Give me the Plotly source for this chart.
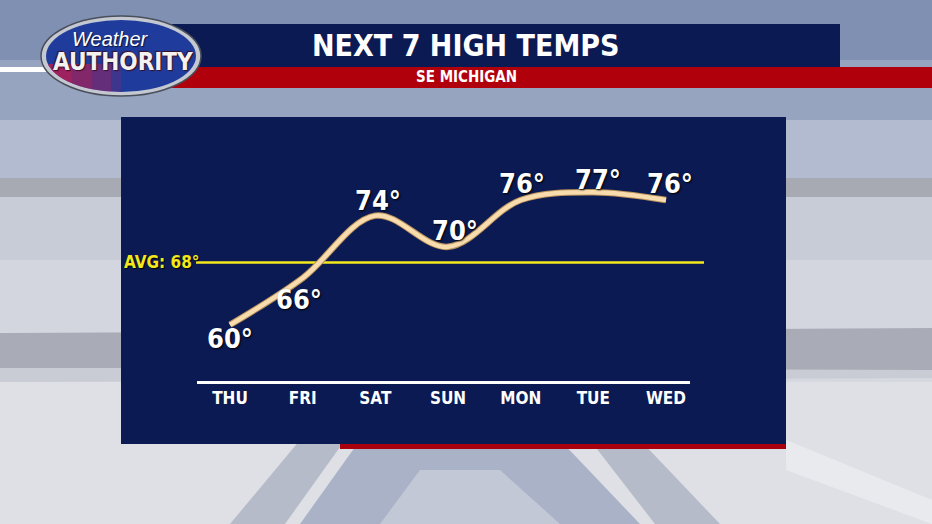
import math
import plotly.graph_objects as go

# ---------------- data ----------------
DAYS = ["THU", "FRI", "SAT", "SUN", "MON", "TUE", "WED"]
HIGHS = [60, 66, 74, 70, 76, 77, 76]
AVG_TEMP = 68
TITLE = "NEXT 7 HIGH TEMPS"
SUBTITLE = "SE MICHIGAN"

# ---------------- styling helpers ----------------
W, H = 932, 524
FONT = "DejaVu Sans Condensed, Liberation Sans Narrow, Arial Narrow, sans-serif"
NAVY = "#0b1a52"
RED = "#a9000d"


def px(x):
    return x / W


def py(y):
    return 1 - y / H


def rect(x0, y0, x1, y1, fill, layer="below", line=None):
    return dict(type="rect", xref="paper", yref="paper", x0=px(x0), x1=px(x1),
                y0=py(y1), y1=py(y0), fillcolor=fill, layer=layer,
                line=line or dict(width=0))


def poly(points, fill, layer="below"):
    d = "M " + " L ".join(f"{px(a)},{py(b)}" for a, b in points) + " Z"
    return dict(type="path", xref="paper", yref="paper", path=d, fillcolor=fill,
                layer=layer, line=dict(width=0))


def ellipse(x0, y0, x1, y1, fill, line=None, layer="below"):
    return dict(type="circle", xref="paper", yref="paper", x0=px(x0), x1=px(x1),
                y0=py(y1), y1=py(y0), fillcolor=fill, layer=layer,
                line=line or dict(width=0))


def lower_ellipse_piece(cx, cy, rx, ry, y_cut, x_end, fill):
    # region of the ellipse below y_cut and left of x_end
    pts = []
    n = 24
    for k in range(n + 1):
        a = math.pi - (math.pi / 2) * k / n  # left -> bottom
        x = cx + rx * math.cos(a)
        y = cy + ry * math.sin(a) * 1.0
        pts.append((x, cy + ry * math.sin(math.pi - a) if False else cy + abs(ry * math.sin(a))))
    pts = [(x, y) for (x, y) in
           [(cx + rx * math.cos(math.pi - (math.pi / 2) * k / n),
             cy + ry * math.sin((math.pi / 2) * k / n)) for k in range(n + 1)]
           if y >= y_cut and x <= x_end]
    if not pts:
        return None
    pts = [(pts[0][0], y_cut)] + pts + [(min(x_end, pts[-1][0]), pts[-1][1]),
                                         (min(x_end, pts[-1][0]), y_cut)]
    return poly(pts, fill)


shapes = []
# --- background (sky / studio) ---
shapes += [
    rect(0, 0, 932, 60, "#8090b2"),
    rect(0, 60, 932, 120, "#97a4bf"),
    rect(0, 120, 932, 178, "#b2bbcf"),
    rect(0, 178, 932, 197, "#a7aab3"),
    rect(0, 197, 932, 260, "#c8ccd7"),
    rect(0, 260, 932, 332, "#d3d6de"),
    poly([(0, 333), (932, 328), (932, 370), (0, 368)], "#a9acb6"),
    poly([(0, 368), (932, 370), (932, 378), (0, 382)], "#c9ccd4"),
    rect(0, 382, 932, 524, "#dfe0e5"),
    poly([(230, 524), (300, 440), (345, 440), (285, 524)], "#b6bbc9"),
    poly([(300, 524), (360, 440), (560, 440), (640, 524)], "#aab2c8"),
    poly([(380, 524), (420, 470), (500, 470), (560, 524)], "#c3c8d6"),
    poly([(655, 524), (590, 440), (640, 440), (720, 524)], "#b6bbc9"),
    poly([(786, 440), (932, 500), (932, 524), (786, 470)], "#e9eaee"),
]
# --- header bars ---
shapes += [
    rect(170, 24, 840, 67, NAVY),
    rect(170, 67, 932, 88, "#b0000c"),
    rect(0, 67, 58, 72, "#ffffff"),
]
# --- logo ---
shapes += [
    ellipse(41, 16, 201, 96, "#c4c8d1", dict(color="#4a4f5c", width=1.5)),
    ellipse(46, 20, 196, 92, "#1f3b9c"),
]
for x_end, op in [(75, 0.45), (95, 0.35), (115, 0.3), (135, 0.2)]:
    s = lower_ellipse_piece(121, 56, 75, 36, 64, x_end, f"rgba(190,30,80,{op})")
    if s:
        shapes.append(s)
# --- main panel ---
shapes += [
    rect(121, 117, 786, 444, NAVY),
    rect(340, 444, 786, 449, RED),
]
# --- average line (data y) ---
shapes.append(dict(type="line", xref="paper", yref="y", x0=px(196), x1=px(704),
                   y0=AVG_TEMP, y1=AVG_TEMP, line=dict(color="#f2e81c", width=2.5),
                   layer="below"))

fig = go.Figure()
fig.add_trace(go.Scatter(
    x=list(range(len(DAYS))), y=HIGHS, mode="lines",
    line=dict(color="#b9925c", width=6.5, shape="spline", smoothing=1.0),
    hoverinfo="skip", showlegend=False))
fig.add_trace(go.Scatter(
    x=list(range(len(DAYS))), y=HIGHS, mode="lines",
    line=dict(color="#f8dcae", width=4.5, shape="spline", smoothing=1.0),
    hoverinfo="skip", showlegend=False))

# label offsets (px) around each point
LABEL_DX = [0, -4, 3, 7, 1, 5, 4]
LABEL_DY = [-14, -21, 15, 16, 17, 13, 17]

annotations = []
for i, (d, t) in enumerate(zip(DAYS, HIGHS)):
    annotations.append(dict(
        x=i, y=t, xref="x", yref="y", text=f"{t}°", showarrow=False,
        xanchor="center", yanchor="middle",
        xshift=LABEL_DX[i], yshift=LABEL_DY[i],
        font=dict(family=FONT, size=27, color="white", weight="bold",
                  shadow="1px 1px 2px #000000")))

annotations += [
    dict(x=px(122), y=AVG_TEMP, xref="paper", yref="y", xanchor="left",
         yanchor="middle", text=f"AVG: {AVG_TEMP}°", showarrow=False,
         font=dict(family=FONT, size=17, color="#f2e81c", weight="bold",
                   shadow="1px 1px 1px #000000")),
    dict(x=px(466), y=py(46), xref="paper", yref="paper", text=TITLE,
         xanchor="center", yanchor="middle", showarrow=False,
         font=dict(family=FONT, size=30, color="white", weight="bold")),
    dict(x=px(466), y=py(77), xref="paper", yref="paper", text=SUBTITLE,
         xanchor="center", yanchor="middle", showarrow=False,
         font=dict(family=FONT, size=15, color="white", weight="bold")),
    dict(x=px(110), y=py(39), xref="paper", yref="paper", text="Weather",
         xanchor="center", yanchor="middle", showarrow=False,
         font=dict(family="Liberation Sans, Arial, sans-serif", size=20,
                   color="white", style="italic",
                   shadow="1px 1px 1px #0a1440")),
    dict(x=px(123), y=py(62), xref="paper", yref="paper", text="AUTHORITY",
         xanchor="center", yanchor="middle", showarrow=False,
         font=dict(family=FONT, size=24, color="#f4f1f1", weight="bold",
                   shadow="1px 1px 1px #3a1020, -1px -1px 1px #3a1020")),
]

# axis geometry: THU at 230px, WED at 666px, domain 197..690px
unit = (666 - 230) / 6
x0 = -(230 - 197) / unit
x1 = x0 + (690 - 197) / unit
# y: linear temperature scale, ~7.8 px per degree
ppd = 7.8
y_top = 70.875 + 240 / ppd
y_bot = 70.875 - (H - 240) / ppd

fig.update_layout(
    width=W, height=H, margin=dict(l=0, r=0, t=0, b=0),
    paper_bgcolor="#d6d8df", plot_bgcolor="rgba(0,0,0,0)",
    shapes=shapes, annotations=annotations, showlegend=False,
    xaxis=dict(domain=[px(197), px(690)], range=[x0, x1], anchor="free",
               position=py(382), showline=True, linecolor="white", linewidth=3,
               tickvals=list(range(len(DAYS))), ticktext=DAYS, ticks="",
               showgrid=False, zeroline=False, fixedrange=True,
               tickfont=dict(family=FONT, size=17, color="white", weight="bold"),
               ticklabelstandoff=0),
    yaxis=dict(domain=[0, 1], range=[y_bot, y_top], visible=False,
               showgrid=False, zeroline=False, fixedrange=True),
)

fig.write_html("out.html",
               config={"displayModeBar": False},
               post_script="document.body.style.margin='0';"
                           "document.body.style.overflow='hidden';")
